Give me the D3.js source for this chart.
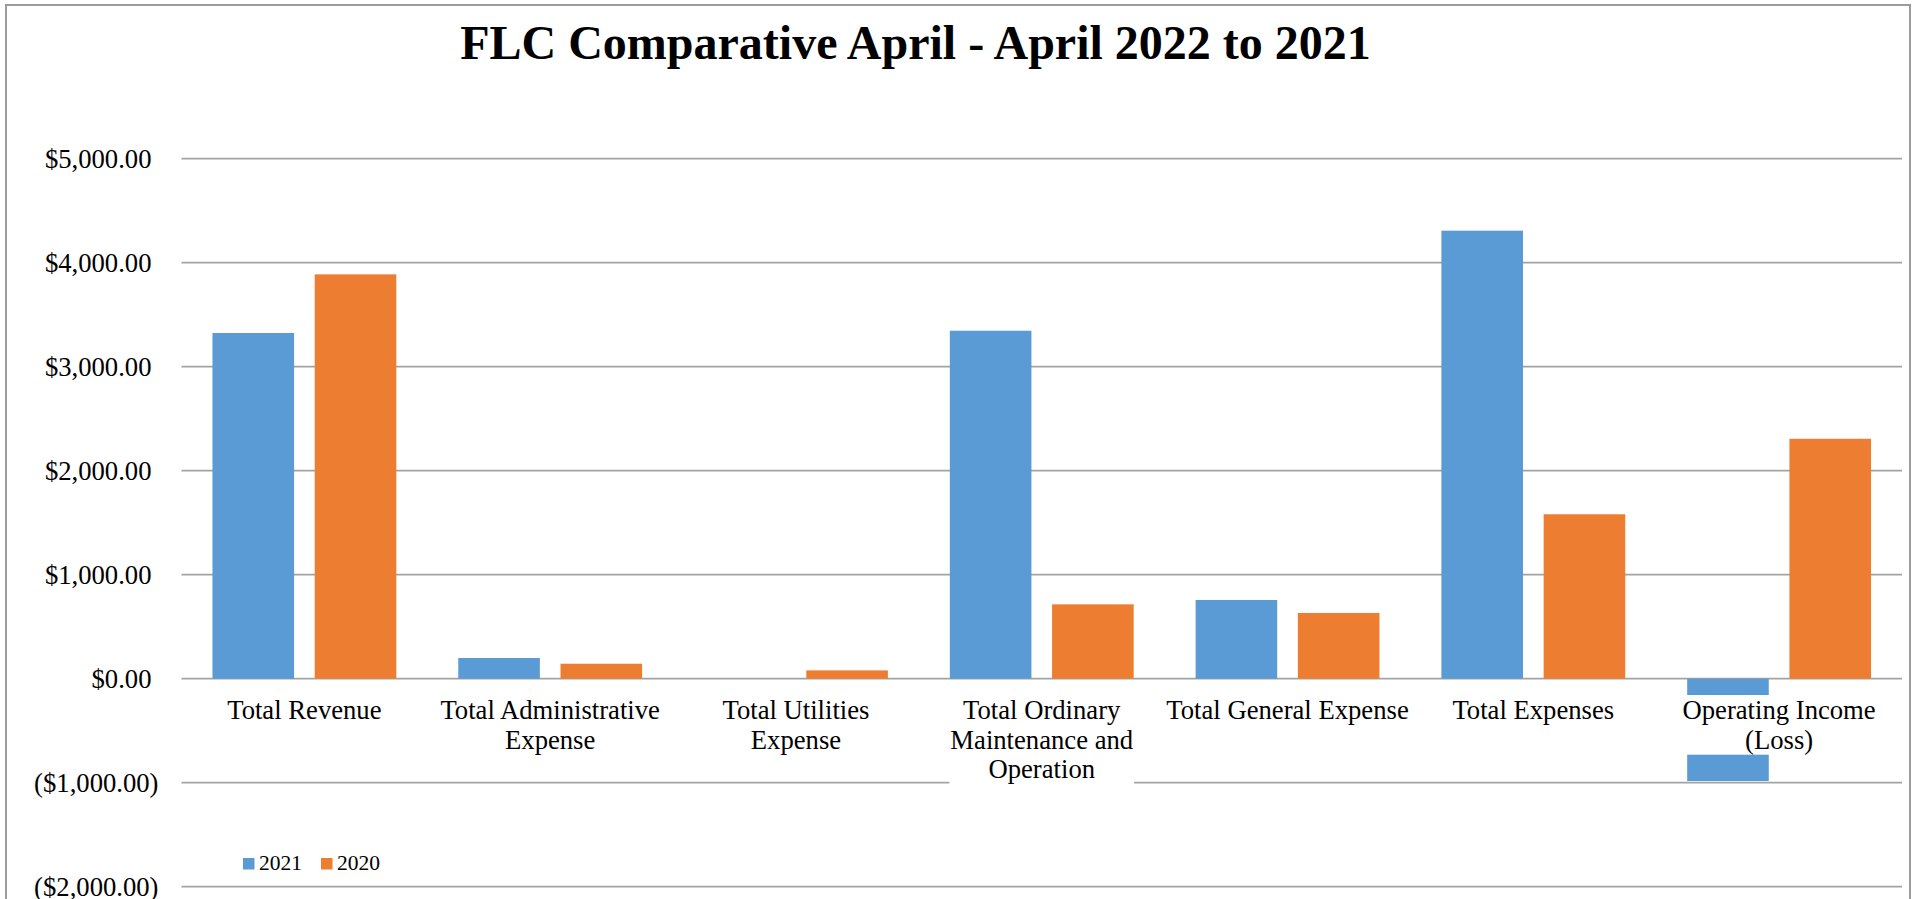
<!DOCTYPE html>
<html>
<head>
<meta charset="utf-8">
<script src="https://cdn.jsdelivr.net/npm/d3@7"></script>
<style>
  html, body { margin: 0; padding: 0; background: #fff; overflow: hidden; }
  svg { display: block; }
  text { font-family: "Liberation Serif", "Times New Roman", serif; fill: #000; }
</style>
</head>
<body>
<svg id="chart" width="1914" height="899"></svg>
<script>
// Category names ("\n" marks where each axis label wraps)
const categories = [
  "Total Revenue",
  "Total Administrative\nExpense",
  "Total Utilities\nExpense",
  "Total Ordinary\nMaintenance and\nOperation",
  "Total General Expense",
  "Total Expenses",
  "Operating Income\n(Loss)"
];
const seriesNames = ["2021", "2020"];
const values2021 = [3324, 199, 0, 3346, 757, 4308, -984];
const values2020 = [3888, 144, 80, 715, 632, 1581, 2307];
const yTickValues = [-2000, -1000, 0, 1000, 2000, 3000, 4000, 5000];
const colors = ["#5B9BD5", "#ED7D31"];
const title = "FLC Comparative April - April 2022 to 2021";

const seriesValues = [values2021, values2020];
const rows = categories.map((c, i) => ({
  category: c,
  values: seriesNames.map((s, j) => ({ series: s, value: seriesValues[j][i] }))
}));

const svg = d3.select("#chart");

// Outer chart frame
svg.append("rect")
  .attr("x", 6).attr("y", 5)
  .attr("width", 1904).attr("height", 1000)
  .attr("fill", "#fff")
  .attr("stroke", "#9c9c9c").attr("stroke-width", 2);

// Title
svg.append("text")
  .attr("x", 915.5).attr("y", 59)
  .attr("text-anchor", "middle")
  .style("font-size", "48px").style("font-weight", "bold")
  .text(title);

const plot = { left: 181.5, right: 1902, top: 158.7, bottom: 886.7 };

const x0 = d3.scaleBand()
  .domain(categories)
  .range([plot.left, plot.right])
  .paddingInner(0.252)
  .paddingOuter(0.126);

const x1 = d3.scaleBand()
  .domain(seriesNames)
  .range([0, x0.bandwidth()])
  .paddingInner(0.202);

const y = d3.scaleLinear()
  .domain([-2000, 5000])
  .range([plot.bottom, plot.top]);

const money = d3.format("$,.2f");
const fmtTick = v => v < 0 ? `(${money(-v)})` : money(v);

// Horizontal gridlines
svg.append("g").selectAll("line")
  .data(yTickValues)
  .join("line")
  .attr("x1", plot.left).attr("x2", plot.right)
  .attr("y1", d => y(d)).attr("y2", d => y(d))
  .attr("stroke", "#a3a3a3").attr("stroke-width", 1.7);

// Value axis labels (positives leave room for the closing parenthesis)
const yAxis = d3.axisLeft(y)
  .tickValues(yTickValues)
  .tickFormat(fmtTick)
  .tickSize(0)
  .tickPadding(0);
const yAxisG = svg.append("g")
  .attr("transform", `translate(${plot.left},0)`)
  .call(yAxis);
yAxisG.select(".domain").remove();
yAxisG.selectAll(".tick text")
  .attr("x", d => d < 0 ? -23 : -30)
  .attr("dy", "0.33em")
  .style("font-size", "26.67px")
  .style("font-family", "'Liberation Serif', 'Times New Roman', serif")
  .attr("fill", "#000");

// Bars
const groups = svg.append("g").selectAll("g")
  .data(rows)
  .join("g")
  .attr("transform", d => `translate(${x0(d.category)},0)`);

groups.selectAll("rect")
  .data(d => d.values)
  .join("rect")
  .attr("x", d => x1(d.series))
  .attr("width", x1.bandwidth())
  .attr("y", d => y(Math.max(0, d.value)))
  .attr("height", d => Math.abs(y(d.value) - y(0)))
  .attr("fill", (d, i) => colors[i]);

// Category labels, drawn over the plot with a white backing box
const labelG = svg.append("g");
categories.forEach(c => {
  const cx = x0(c) + x0.bandwidth() / 2;
  const g = labelG.append("g");
  const bg = g.append("rect").attr("fill", "#fff");
  const t = g.append("text")
    .attr("text-anchor", "middle")
    .style("font-size", "26.67px");
  c.split("\n").forEach((line, i) => {
    t.append("tspan")
      .attr("x", cx)
      .attr("y", 719 + i * 29.7)
      .text(line);
  });
  const b = t.node().getBBox();
  bg.attr("x", b.x - 1).attr("y", b.y)
    .attr("width", b.width + 2).attr("height", b.height);
});

// Legend
const legend = svg.append("g");
const legendItems = [
  { name: seriesNames[0], x: 243 },
  { name: seriesNames[1], x: 321 }
];
legendItems.forEach((d, i) => {
  legend.append("rect")
    .attr("x", d.x).attr("y", 858)
    .attr("width", 11.5).attr("height", 11.5)
    .attr("fill", colors[i]);
  legend.append("text")
    .attr("x", d.x + 16).attr("y", 870)
    .style("font-size", "21.5px")
    .text(d.name);
});
</script>
</body>
</html>
